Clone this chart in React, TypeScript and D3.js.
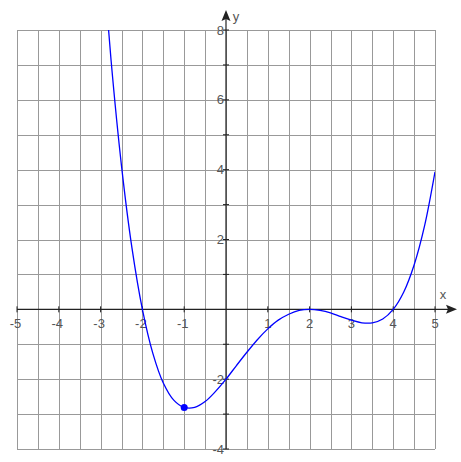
import { useEffect, useRef } from 'react';
import * as d3 from 'd3';

// curve points
const CURVE_X = [-3, -2.75, -2.5, -2.25, -2, -1.75, -1.5, -1.25, -1, -0.75, -0.5, -0.25, 0, 0.25, 0.5, 0.75, 1, 1.25, 1.5, 1.75, 2, 2.25, 2.5, 2.75, 3, 3.25, 3.5, 3.75, 4, 4.25, 4.5, 4.75, 5];
const CURVE_Y = [10.94, 7.14, 4.11, 1.76, 0, -1.26, -2.11, -2.6, -2.81, -2.81, -2.64, -2.35, -2, -1.61, -1.23, -0.87, -0.56, -0.31, -0.14, -0.03, 0, -0.03, -0.1, -0.21, -0.31, -0.385, -0.387, -0.275, 0, 0.49, 1.27, 2.39, 3.94];
const MARKED_POINT = [-1, -2.81];
const X_TICKS = [-5, -4, -3, -2, -1, 1, 2, 3, 4, 5];
const Y_LABEL_TICKS = [-4, -2, 2, 4, 6, 8];

const W = 461;
const H = 462;

export default function App() {
  const svgRef = useRef<SVGSVGElement>(null);

  useEffect(() => {
    if (!svgRef.current) return;
    const svg = d3.select(svgRef.current);
    svg.selectAll('*').remove();

    const x = d3.scaleLinear().domain([-5, 5]).range([17, 435]);
    const y = d3.scaleLinear().domain([-4, 8]).range([449, 30]);
    const x0 = x(0);
    const y0 = y(0);

    const gridColor = '#999';
    const axisColor = '#222';
    const labelColor = '#555';

    svg.append('defs')
      .append('clipPath')
      .attr('id', 'plot-clip')
      .append('rect')
      .attr('x', x(-5))
      .attr('y', y(8))
      .attr('width', x(5) - x(-5))
      .attr('height', y(-4) - y(8));

    // grid
    const g = svg.append('g').attr('shape-rendering', 'crispEdges');
    g.selectAll('line.vx')
      .data(d3.range(-5, 5.001, 0.5))
      .join('line')
      .attr('x1', (d) => Math.round(x(d)) + 0.5)
      .attr('x2', (d) => Math.round(x(d)) + 0.5)
      .attr('y1', y(8))
      .attr('y2', y(-4))
      .attr('stroke', gridColor);
    g.selectAll('line.hy')
      .data(d3.range(-4, 8.001, 1))
      .join('line')
      .attr('x1', x(-5))
      .attr('x2', x(5))
      .attr('y1', (d) => Math.round(y(d)) + 0.5)
      .attr('y2', (d) => Math.round(y(d)) + 0.5)
      .attr('stroke', gridColor);

    // axes
    const ax = svg.append('g');
    ax.append('line')
      .attr('x1', x(-5)).attr('x2', 450)
      .attr('y1', y0).attr('y2', y0)
      .attr('stroke', axisColor).attr('stroke-width', 1.2);
    ax.append('path')
      .attr('d', `M457,${y0} L446,${y0 - 4.5} L448,${y0} L446,${y0 + 4.5} Z`)
      .attr('fill', axisColor);
    ax.append('line')
      .attr('x1', x0).attr('x2', x0)
      .attr('y1', y(-4)).attr('y2', 18)
      .attr('stroke', axisColor).attr('stroke-width', 1.2);
    ax.append('path')
      .attr('d', `M${x0},10 L${x0 - 4.5},21 L${x0},19 L${x0 + 4.5},21 Z`)
      .attr('fill', axisColor);

    // tick marks
    ax.selectAll('line.xt')
      .data(d3.range(-5, 5.001, 1).filter((d) => d !== 0))
      .join('line')
      .attr('x1', (d) => x(d)).attr('x2', (d) => x(d))
      .attr('y1', y0 - 3).attr('y2', y0 + 3)
      .attr('stroke', axisColor);
    ax.selectAll('line.yt')
      .data(d3.range(-4, 8.001, 1).filter((d) => d !== 0))
      .join('line')
      .attr('x1', x0 - 3).attr('x2', x0 + 3)
      .attr('y1', (d) => y(d)).attr('y2', (d) => y(d))
      .attr('stroke', axisColor);

    const font = 'Arial, "Liberation Sans", sans-serif';
    ax.selectAll('text.xl')
      .data(X_TICKS)
      .join('text')
      .attr('x', (d) => x(d) - (d < 0 ? 1.5 : 0))
      .attr('y', y0 + 19)
      .attr('text-anchor', 'middle')
      .attr('font-family', font)
      .attr('font-size', 13)
      .attr('fill', labelColor)
      .text((d) => String(d));
    ax.selectAll('text.yl')
      .data(Y_LABEL_TICKS)
      .join('text')
      .attr('x', x0 - 2)
      .attr('y', (d) => y(d) + 4.5)
      .attr('text-anchor', 'end')
      .attr('font-family', font)
      .attr('font-size', 13)
      .attr('fill', labelColor)
      .text((d) => String(d));

    ax.append('text')
      .attr('x', 443).attr('y', y0 - 10)
      .attr('text-anchor', 'middle')
      .attr('font-family', font).attr('font-size', 13).attr('fill', labelColor)
      .text('x');
    ax.append('text')
      .attr('x', x0 + 10).attr('y', 21)
      .attr('text-anchor', 'middle')
      .attr('font-family', font).attr('font-size', 13).attr('fill', labelColor)
      .text('y');

    // curve
    const pts: [number, number][] = CURVE_X.map((d, i) => [d, CURVE_Y[i]]);
    const line = d3.line<[number, number]>()
      .x((d) => x(d[0]))
      .y((d) => y(d[1]))
      .curve(d3.curveCatmullRom);
    svg.append('path')
      .attr('clip-path', 'url(#plot-clip)')
      .attr('d', line(pts))
      .attr('fill', 'none')
      .attr('stroke', '#0000ff')
      .attr('stroke-width', 1.3);

    svg.append('circle')
      .attr('cx', x(MARKED_POINT[0]))
      .attr('cy', y(MARKED_POINT[1]))
      .attr('r', 3.5)
      .attr('fill', '#0000ff');
  }, []);

  return (
    <svg
      ref={svgRef}
      width={W}
      height={H}
      style={{ position: 'absolute', left: 0, top: 0, background: '#fff' }}
    />
  );
}
